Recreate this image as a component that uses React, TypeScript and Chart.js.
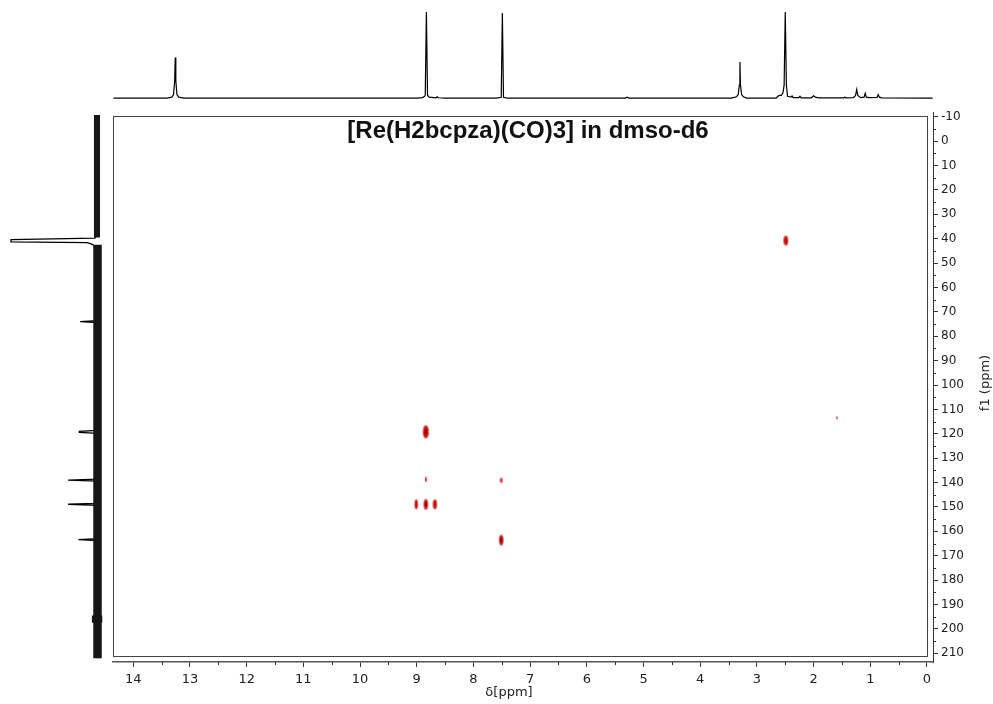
import React, { useEffect, useRef } from 'react';
import { Chart, registerables } from 'chart.js';
Chart.register(...registerables);

// ---------- 1H projection (top trace) ----------
const hPpm = [14.35, 13.4, 13.32, 13.29, 13.27, 13.26, 13.25, 13.23, 13.2, 13.1,
  9.0, 8.9, 8.86, 8.85, 8.83, 8.81, 8.78, 8.7, 8.66, 8.64, 8.62, 8.5,
  7.6, 7.51, 7.49, 7.47, 7.4, 5.32, 5.29, 5.26,
  3.45, 3.36, 3.33, 3.31, 3.3, 3.29, 3.27, 3.24, 3.18,
  2.66, 2.62, 2.6, 2.57, 2.54, 2.52, 2.5, 2.48, 2.46, 2.4, 2.38, 2.36,
  2.26, 2.24, 2.22, 2.04, 2.0, 1.97, 1.92, 1.47, 1.45, 1.43,
  1.3, 1.26, 1.24, 1.22, 1.17, 1.11, 1.09, 1.07, 1.02, 0.88, 0.86, 0.84, 0.8, 0.0, -0.1];
const hInt = [0, 0, 1, 4, 20, 47, 20, 4, 1, 0,
  0, 0.5, 2, 4, 100, 3, 1, 0.5, 0.3, 1.5, 0.3, 0,
  0, 0.8, 99, 0.8, 0, 0, 1, 0,
  0, 1.5, 4, 15, 42, 15, 4, 1.5, 0,
  0, 2.5, 3, 3, 6, 15, 100, 15, 2, 1, 2.5, 0.5,
  0.5, 2, 0.3, 0.3, 2.5, 1, 0.3, 0.3, 1, 0.3,
  0.5, 3, 10, 3, 0.5, 1, 5.5, 1, 0.5, 0.8, 4, 1, 0.3, 0, 0];

// ---------- 13C projection (left trace) ----------
const cPpm = [-10.7, 38, 39.8, 40.4, 41.3, 41.6, 42.3, 43.2, 44.5, 46,
  73.6, 74.0, 74.4, 118.6, 119.0, 119.4, 119.8, 138.6, 139.0, 139.4,
  148.5, 148.9, 149.3, 163.0, 163.4, 163.8, 212];
const cInt = [0, 0, 3, 100, 100, 12, 6, 3, 1, 0,
  0, 20, 0, 0, 21, 21, 0, 0, 34, 0,
  0, 34, 0, 0, 22, 0, 0];
// noise band of the 13C trace: start / end ppm, half-width (intensity units), centre
const noiseStart = [-10.7, 42.5, 194.5];
const noiseEnd = [39.5, 212, 197.5];
const noiseHalf = [3.5, 4.9, 6];
const noiseCentre = [0.6, 0, 0.5];

// ---------- HMBC cross peaks ----------
const crossH = [2.49, 1.59, 8.84, 8.84, 7.51, 9.01, 8.84, 8.68, 7.51];
const crossC = [40.8, 113.5, 119.2, 138.7, 139.1, 148.9, 148.9, 148.9, 163.6];
const crossWidthH = [0.085, 0.03, 0.11, 0.035, 0.05, 0.06, 0.08, 0.075, 0.08];
const crossWidthC = [4.0, 1.2, 5.6, 2.2, 2.3, 4.1, 4.5, 4.1, 4.5];
const crossLevel = [2, 1, 3, 1, 1, 2, 3, 2, 3];

// ---------- axes ----------
const xMajorTicks = [14, 13, 12, 11, 10, 9, 8, 7, 6, 5, 4, 3, 2, 1, 0];
const xMinorTicks = [13.5, 12.5, 11.5, 10.5, 9.5, 8.5, 7.5, 6.5, 5.5, 4.5, 3.5, 2.5, 1.5, 0.5];
const yMajorTicks = [-10, 0, 10, 20, 30, 40, 50, 60, 70, 80, 90, 100, 110, 120, 130, 140, 150, 160, 170, 180, 190, 200, 210];
const yMinorTicks = [-5, 5, 15, 25, 35, 45, 55, 65, 75, 85, 95, 105, 115, 125, 135, 145, 155, 165, 175, 185, 195, 205];

const X_MIN = -0.106, X_MAX = 14.358;
const Y_MIN = -11.93, Y_MAX = 213.57;
const TITLE = '[Re(H2bcpza)(CO)3] in dmso-d6';
const X_TITLE = 'δ[ppm]';
const Y_TITLE = 'f1 (ppm)';

function makeEllipse(w: number, h: number, level: number): HTMLCanvasElement {
  const W = Math.ceil(w) + 2, H = Math.ceil(h) + 2;
  const c = document.createElement('canvas');
  c.width = W; c.height = H;
  const g = c.getContext('2d')!;
  const draw = (f: number, col: string) => {
    g.beginPath();
    g.ellipse(W / 2, H / 2, Math.max(0.5, (w / 2) * f), Math.max(0.5, (h / 2) * f), 0, 0, Math.PI * 2);
    g.fillStyle = col; g.fill();
  };
  draw(1, level === 1 ? 'rgb(235,45,45)' : 'rgb(225,50,50)');
  if (level >= 2) draw(0.68, 'rgb(185,20,20)');
  if (level >= 3) draw(0.4, 'rgb(140,0,0)');
  return c;
}

function ellipseStyle(ctx: any) {
  const i = ctx.dataIndex;
  const chart = ctx.chart;
  const xs = chart.scales && chart.scales.x, ys = chart.scales && chart.scales.y;
  if (i === undefined || !xs || !ys) return 'circle';
  const w = Math.abs(xs.getPixelForValue(crossH[i] + crossWidthH[i] / 2) - xs.getPixelForValue(crossH[i] - crossWidthH[i] / 2));
  const h = Math.abs(ys.getPixelForValue(crossC[i] + crossWidthC[i] / 2) - ys.getPixelForValue(crossC[i] - crossWidthC[i] / 2));
  return makeEllipse(w, h, crossLevel[i]);
}

const framePlugin = {
  id: 'frame',
  afterDraw(chart: any) {
    const { ctx, chartArea: a, scales } = chart;
    ctx.save();
    // plot frame
    ctx.strokeStyle = '#444';
    ctx.lineWidth = 1;
    ctx.strokeRect(Math.round(a.left) + 0.5, Math.round(a.top) + 4.5, Math.round(a.right - a.left) - 6, Math.round(a.bottom - a.top) - 10);
    // minor ticks
    ctx.strokeStyle = '#333';
    ctx.beginPath();
    for (const v of xMinorTicks) {
      const px = Math.round(scales.x.getPixelForValue(v)) + 0.5;
      ctx.moveTo(px, a.bottom); ctx.lineTo(px, a.bottom + 3);
    }
    for (const v of yMinorTicks) {
      const py = Math.round(scales.y.getPixelForValue(v)) + 0.5;
      ctx.moveTo(a.right, py); ctx.lineTo(a.right + 3, py);
    }
    ctx.stroke();
    // x axis title
    ctx.fillStyle = '#222';
    ctx.font = '13px "DejaVu Sans"';
    ctx.textAlign = 'center';
    ctx.textBaseline = 'middle';
    ctx.fillText(X_TITLE, (a.left + a.right) / 2 - 14, chart.height - 11);
    // y axis title
    ctx.translate(chart.width - 7, (a.top + a.bottom) / 2 - 4);
    ctx.rotate(-Math.PI / 2);
    ctx.fillText(Y_TITLE, 0, 0);
    ctx.restore();
    // plot title
    ctx.save();
    ctx.fillStyle = '#111';
    ctx.font = 'bold 24px "Liberation Sans"';
    ctx.textAlign = 'center';
    ctx.textBaseline = 'middle';
    ctx.fillText(TITLE, (a.left + a.right) / 2 + 5, a.top + 19);
    ctx.restore();
  },
};

export default function App() {
  const mainRef = useRef<HTMLCanvasElement>(null);
  const topRef = useRef<HTMLCanvasElement>(null);
  const leftRef = useRef<HTMLCanvasElement>(null);

  useEffect(() => {
    const charts: Chart[] = [];
    const tickFont = { family: 'DejaVu Sans', size: 13 };

    charts.push(new Chart(mainRef.current!, {
      type: 'scatter',
      data: {
        datasets: [{
          data: crossH.map((x, i) => ({ x, y: crossC[i] })),
          pointStyle: ellipseStyle as any,
          pointRadius: 3,
          pointHoverRadius: 3,
        }],
      },
      options: {
        animation: false,
        responsive: false,
        devicePixelRatio: 1,
        events: [],
        layout: { padding: { left: 113, top: 112, right: 0, bottom: 0 } },
        plugins: { legend: { display: false }, tooltip: { enabled: false } },
        scales: {
          x: {
            type: 'linear', position: 'bottom', reverse: true, min: X_MIN, max: X_MAX,
            afterBuildTicks: (s: any) => { s.ticks = xMajorTicks.map((v) => ({ value: v })); },
            afterFit: (s: any) => { s.height = 42; },
            grid: { drawOnChartArea: false, drawTicks: true, tickLength: 5, color: '#333' },
            border: { display: true, color: '#555', width: 1.5 },
            ticks: { font: tickFont, color: '#222', padding: 5, maxRotation: 0, autoSkip: false, callback: (v: any) => String(v) },
          },
          y: {
            type: 'linear', position: 'right', reverse: true, min: Y_MIN, max: Y_MAX,
            afterBuildTicks: (s: any) => { s.ticks = yMajorTicks.map((v) => ({ value: v })); },
            afterFit: (s: any) => { s.width = 60; },
            grid: { drawOnChartArea: false, drawTicks: true, tickLength: 5, color: '#333' },
            border: { display: true, color: '#333', width: 1 },
            ticks: { font: { family: 'DejaVu Sans', size: 12 }, color: '#222', padding: 3, autoSkip: false, callback: (v: any) => String(v) },
          },
        },
      },
      plugins: [framePlugin],
    } as any));

    charts.push(new Chart(topRef.current!, {
      type: 'scatter',
      data: {
        datasets: [{
          data: hPpm.map((x, i) => ({ x, y: hInt[i] })),
          showLine: true, pointRadius: 0, borderColor: '#000', borderWidth: 1.2, tension: 0,
        }],
      },
      options: {
        animation: false, responsive: false, devicePixelRatio: 1, events: [],
        layout: { padding: 0 },
        plugins: { legend: { display: false }, tooltip: { enabled: false } },
        scales: {
          x: { type: 'linear', display: false, reverse: true, min: X_MIN, max: X_MAX },
          y: { type: 'linear', display: false, min: -8.1, max: 114 },
        },
      },
    } as any));

    const bands = noiseStart.map((s, i) => ({
      data: [{ x: noiseCentre[i], y: s }, { x: noiseCentre[i], y: noiseEnd[i] }],
      showLine: true, pointRadius: 0, borderColor: '#161616',
      borderWidth: noiseHalf[i] * 2 * (113 / 130.6), borderCapStyle: 'butt',
    }));

    charts.push(new Chart(leftRef.current!, {
      type: 'scatter',
      data: {
        datasets: [
          ...bands,
          {
            data: cPpm.map((y, i) => ({ x: cInt[i], y })),
            showLine: true, pointRadius: 0, borderColor: '#000', borderWidth: 1.3, tension: 0,
          },
        ],
      },
      options: {
        animation: false, responsive: false, devicePixelRatio: 1, events: [],
        layout: { padding: 0 },
        plugins: { legend: { display: false }, tooltip: { enabled: false } },
        scales: {
          x: { type: 'linear', display: false, reverse: true, min: -17.9, max: 112.7 },
          y: { type: 'linear', display: false, reverse: true, min: Y_MIN, max: Y_MAX },
        },
      },
    } as any));

    return () => charts.forEach((c) => c.destroy());
  }, []);

  return (
    <div style={{ position: 'absolute', left: 0, top: 0, width: 993, height: 704, background: '#fff', overflow: 'hidden' }}>
      <canvas ref={mainRef} width={993} height={704} style={{ position: 'absolute', left: 0, top: 0, width: 993, height: 704 }} />
      <canvas ref={topRef} width={820} height={105} style={{ position: 'absolute', left: 113, top: 0, width: 820, height: 105 }} />
      <canvas ref={leftRef} width={113} height={550} style={{ position: 'absolute', left: 0, top: 112, width: 113, height: 550 }} />
    </div>
  );
}
